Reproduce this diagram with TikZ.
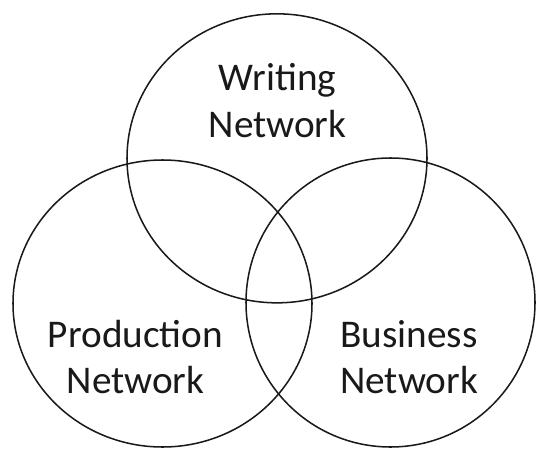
\documentclass[tikz,border=0pt]{standalone}
\usepackage{fontspec}
\setmainfont{Carlito}

\begin{document}
\begin{tikzpicture}[ring/.style={draw=black!90,line width=1.3pt},
  nettext/.style={font=\fontsize{33.5}{39.5}\selectfont,text=black!90,align=center}]
\useasboundingbox (0,0) rectangle (16.08,13.47);
% the three networks
\draw[ring] (8.31,8.72) ellipse [x radius=4.5, y radius=4.335];
\draw[ring] (4.875,4.365) ellipse [x radius=4.485, y radius=4.305];
\draw[ring] (11.715,4.395) circle [radius=4.335];
\node[nettext] (writing) at (8.325,10.45) {Writing\\Network};
\node[nettext] (production) at (4.065,2.76) {Production\\Network};
\node[nettext] (business) at (12.27,2.75) {Business\\Network};
\end{tikzpicture}
\end{document}
